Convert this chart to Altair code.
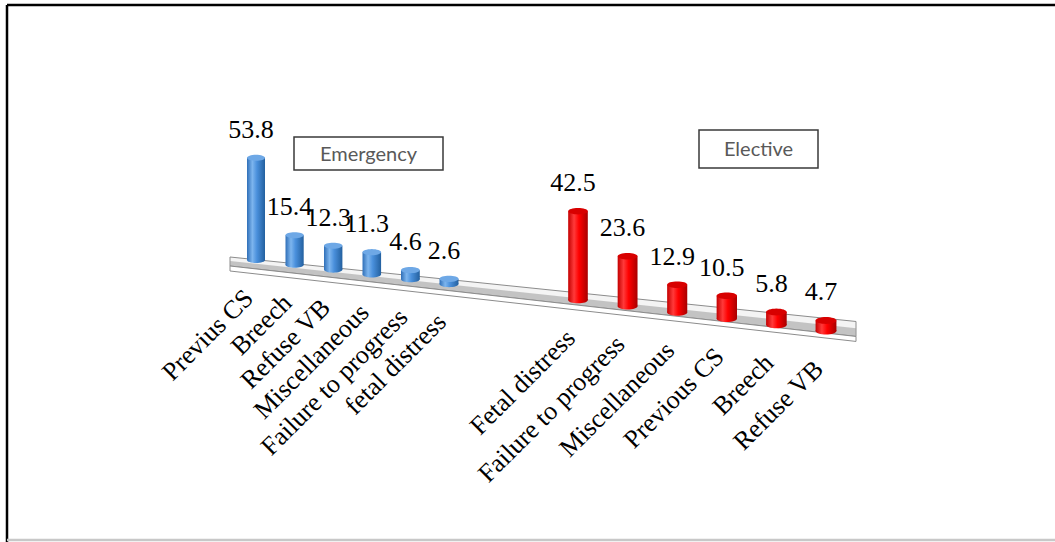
import altair as alt
import pandas as pd
import numpy as np

# ---------------- data ----------------
groups = ["Emergency", "Elective"]
emergency_categories = ["Previus CS", "Breech", "Refuse VB", "Miscellaneous",
                        "Failure to progress", "fetal distress"]
emergency_values = [53.8, 15.4, 12.3, 11.3, 4.6, 2.6]
elective_categories = ["Fetal distress", "Failure to progress", "Miscellaneous",
                       "Previous CS", "Breech", "Refuse VB"]
elective_values = [42.5, 23.6, 12.9, 10.5, 5.8, 4.7]

# ---------------- layout (pixels) ----------------
W, H = 1055, 542
rows = []
for g, cats, vals in [("Emergency", emergency_categories, emergency_values),
                      ("Elective", elective_categories, elective_values)]:
    for i, (c, v) in enumerate(zip(cats, vals)):
        rows.append({"group": g, "idx": i, "category": c, "value": v})
bars = pd.DataFrame(rows)

floor = pd.DataFrame({"fx": [230, 856]})
legend = pd.DataFrame({
    "group": groups,
    "bx1": [294, 699], "bx2": [443, 818],
    "by1": [137, 130], "by2": [170, 168],
})
frame = pd.DataFrame({
    "fx1": [7, 7, 7], "fx2": [7, 1060, 1060],
    "fy1": [5, 5, 540], "fy2": [545, 5, 540],
    "kind": ["k", "k", "g"],
})

xs = alt.Scale(domain=[0, W], range=[0, W], nice=False, zero=False)
ys = alt.Scale(domain=[0, H], range=[0, H], nice=False, zero=False)


def X(f):
    return alt.X(f"{f}:Q", scale=xs, axis=None)


def Y(f):
    return alt.Y(f"{f}:Q", scale=ys, axis=None)


# ellipse shape in the unit box
t = np.linspace(0, 2 * np.pi, 33)[:-1]
ell = "M " + " L ".join(f"{np.cos(a):.3f} {0.33 * np.sin(a):.3f}" for a in t) + " Z"


def grad(stops, vertical=False):
    return alt.LinearGradient(
        gradient="linear",
        stops=[alt.GradientStop(offset=o, color=c) for o, c in stops],
        x1=0, x2=0 if vertical else 1, y1=0, y2=1 if vertical else 0,
    )


styles = {
    "Emergency": {
        "body": grad([(0, "#2f6fb8"), (0.3, "#7db5ee"), (0.55, "#4a90dc"), (1, "#23609f")]),
        "top": "#6ea8e6",
    },
    "Elective": {
        "body": grad([(0, "#c40000"), (0.3, "#ff3a3a"), (0.55, "#ff0000"), (1, "#a80000")]),
        "top": "#d80000",
    },
}

base = alt.Chart(bars).transform_calculate(
    cx="datum.group == 'Emergency' ? 256 + 38.6 * datum.idx : 578 + 49.6 * datum.idx"
).transform_calculate(
    base="260 + 0.1246 * (datum.cx - 256)",
    k="1.9 + 0.0006 * (datum.cx - 256)",
    w="18 + 0.005 * (datum.cx - 256)",
).transform_calculate(
    top="datum.base - datum.value * datum.k",
    x1="datum.cx - datum.w / 2",
    x2="datum.cx + datum.w / 2",
    sz="datum.w * datum.w",
).transform_calculate(
    lx="datum.cx - 5",
    ly="datum.top - 28",
    cy="datum.base + 34",
    cxl="datum.cx - 7",
)

# ---------------- floor ----------------
fl = alt.Chart(floor).transform_calculate(
    yb="257 + 0.1030 * (datum.fx - 230)",
    yf="266 + 0.1125 * (datum.fx - 230)",
).transform_calculate(
    ym="datum.yb + 0.45 * (datum.yf - datum.yb)",
    yl="datum.yf + 5",
)
floor_top = fl.mark_area(fill="#f4f4f4", stroke="#8c8c8c", strokeWidth=1).encode(
    x=X("fx"), y=Y("yb"), y2="yf:Q")
floor_shadow = fl.mark_area(fill="#9a9a9a", opacity=0.55).encode(
    x=X("fx"), y=Y("ym"), y2="yf:Q")
floor_front = fl.mark_area(fill="#ffffff", stroke="#8c8c8c", strokeWidth=1).encode(
    x=X("fx"), y=Y("yf"), y2="yl:Q")

# ---------------- cylinders ----------------
layers = [floor_top, floor_shadow, floor_front]
for g in groups:
    st = styles[g]
    sub = base.transform_filter(f"datum.group == '{g}'")
    layers.append(sub.mark_point(shape=ell, filled=True, fill=st["body"], opacity=1,
                                 strokeWidth=0).encode(
        x=X("cx"), y=Y("base"), size=alt.Size("sz:Q", scale=None)))
    layers.append(sub.mark_rect(fill=st["body"]).encode(
        x=X("x1"), x2="x2:Q", y=Y("top"), y2="base:Q"))
    layers.append(sub.mark_point(shape=ell, filled=True, fill=st["top"], opacity=1,
                                 strokeWidth=0).encode(
        x=X("cx"), y=Y("top"), size=alt.Size("sz:Q", scale=None)))

value_labels = base.mark_text(font="Liberation Serif", fontSize=26, color="black",
                              align="center", baseline="middle").encode(
    x=X("lx"), y=Y("ly"), text=alt.Text("value:Q", format=".1f"))
cat_labels = base.mark_text(font="Liberation Serif", fontSize=26, color="black",
                            align="right", baseline="middle", angle=315).encode(
    x=X("cxl"), y=Y("cy"), text="category:N")

leg = alt.Chart(legend)
leg_box = leg.mark_rect(fill="white", stroke="#3a3a3a", strokeWidth=1.5).encode(
    x=X("bx1"), x2="bx2:Q", y=Y("by1"), y2="by2:Q")
leg_text = leg.transform_calculate(
    tx="(datum.bx1 + datum.bx2) / 2", ty="(datum.by1 + datum.by2) / 2 + 1"
).mark_text(font="Lato", fontSize=20, color="#595959", align="center",
            baseline="middle").encode(x=X("tx"), y=Y("ty"), text="group:N")

fr = alt.Chart(frame).mark_rule(strokeWidth=2.5).encode(
    x=X("fx1"), x2="fx2:Q", y=Y("fy1"), y2="fy2:Q",
    color=alt.Color("kind:N", scale=alt.Scale(domain=["k", "g"], range=["#000000", "#c8c8c8"]),
                    legend=None))

layers += [value_labels, cat_labels, leg_box, leg_text, fr]

chart = alt.layer(*layers).properties(
    width=W, height=H, autosize=alt.AutoSizeParams(type="none"), padding=0,
    background="white",
).configure_view(stroke=None)

chart.save("out.html", embed_options={"renderer": "svg", "actions": False})
